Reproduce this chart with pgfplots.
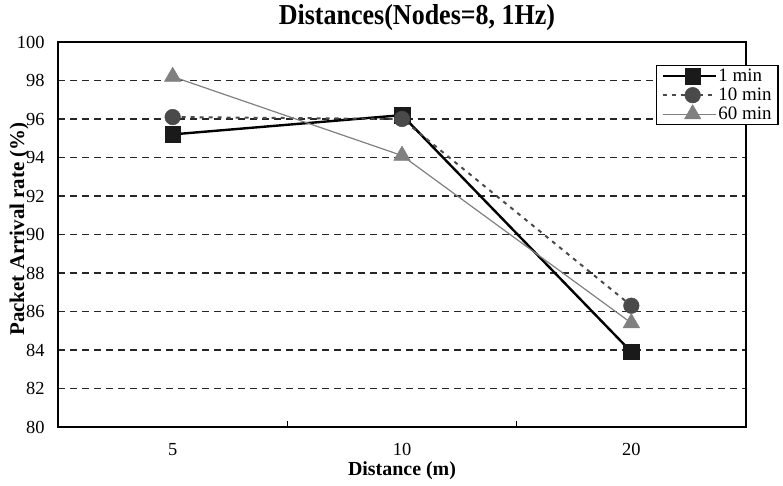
\documentclass[border=0pt]{standalone}
\usepackage{pgfplots}
\pgfplotsset{compat=1.18}
\usepackage{fontspec}
\setmainfont{Liberation Serif}
\definecolor{sqc}{HTML}{1A1A1A}
\definecolor{circc}{HTML}{4A4A4A}
\definecolor{tric}{HTML}{808080}
\begin{document}
\begin{tikzpicture}[x=1bp,y=1bp]
\path[use as bounding box] (0,0) rectangle (783,486);
\begin{axis}[
  at={(58bp,59bp)}, anchor=south west,
  width=688bp, height=385bp, scale only axis,
  xmin=-0.5, xmax=2.5, ymin=80, ymax=100,
  axis line style={line width=1.3bp, black},
  xtick={0,1,2}, xticklabels={5,10,20},
  major tick length=0pt,
  extra x ticks={0.5,1.5},
  extra x tick labels={},
  extra x tick style={major tick length=6bp, tick align=inside, tick style={line width=1bp,black}, xticklabels={}},
  xtick pos=bottom,
  ytick={80,82,...,100},
  ytick pos=left,
  ymajorgrids,
  grid style={dash pattern=on 7bp off 5bp, line width=1.1bp, black!85},
  /pgf/number format/assume math mode=true,
  tick label style={font=\fontsize{18.5}{18.5}\selectfont},
  xticklabel style={yshift=-13bp},
  yticklabel style={xshift=-10bp},
  legend style={at={(0.869,0.940)}, anchor=north west,
    font=\fontsize{19}{19}\selectfont, draw=black, line width=1.2bp,
    inner xsep=5bp, inner ysep=1bp, row sep=0bp,
    nodes={inner sep=1.5bp, text height=13bp, text depth=3bp}},
  legend image code/.code={
    \path (-9bp,0bp) -- (44bp,0bp);
    \draw[mark repeat=2, mark phase=2, #1] plot coordinates {(0bp,0bp) (21bp,0bp) (42bp,0bp)};
  },
  legend cell align=left,
  clip=false,
]
\addplot[color=black, line width=2.4bp, mark=square*, mark size=7.8bp,
  mark options={solid, fill=sqc, draw=sqc, line width=0.5bp}]
  coordinates {(0,95.2) (1,96.2) (2,83.9)};
\addlegendentry{1 min}
\addplot[color=circc, line width=2bp, dash pattern=on 4bp off 5bp, mark=*, mark size=7.8bp,
  mark options={solid, fill=circc, draw=circc, line width=0.5bp}]
  coordinates {(0,96.1) (1,96.0) (2,86.3)};
\addlegendentry{10 min}
\addplot[color=tric, line width=1.2bp, mark=triangle*, mark size=9.5bp,
  mark options={solid, fill=tric, draw=tric, line width=0.5bp}]
  coordinates {(0,98.2) (1,94.1) (2,85.4)};
\addlegendentry{60 min}
\end{axis}
\node[anchor=base, font=\bfseries\fontsize{29}{29}\selectfont] at (417,461) {\scalebox{0.9}[1]{Distances(Nodes=8, 1Hz)}};
\node[anchor=base, font=\bfseries\fontsize{20}{20}\selectfont] at (402,10) {Distance (m)};
\node[rotate=90, anchor=base, font=\bfseries\fontsize{21}{21}\selectfont] at (24,257) {Packet Arrival rate (\%)};
\end{tikzpicture}
\end{document}
